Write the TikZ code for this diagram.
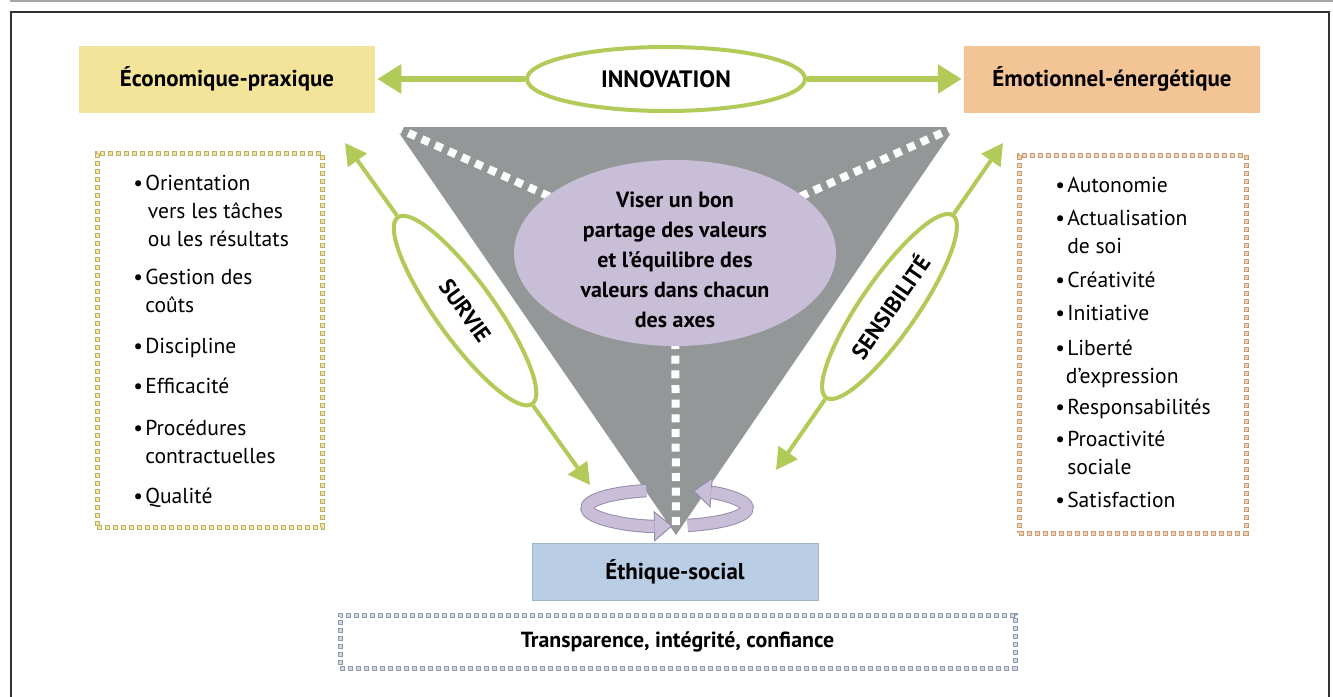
\documentclass[tikz,border=0pt]{standalone}
\usepackage{fontspec}
\setmainfont{PT Sans}
\usetikzlibrary{shapes.geometric,arrows.meta,calc}
\definecolor{ybox}{RGB}{244,228,154}
\definecolor{pbox}{RGB}{243,196,150}
\definecolor{bbox}{RGB}{185,205,229}
\definecolor{bboxd}{RGB}{160,180,205}
\definecolor{tri}{RGB}{148,151,151}
\definecolor{lav}{RGB}{201,190,216}
\definecolor{lavd}{RGB}{150,140,172}
\definecolor{grn}{RGB}{178,202,88}
\definecolor{ydo}{RGB}{190,175,105}
\definecolor{ydi}{RGB}{240,230,160}
\definecolor{pdo}{RGB}{200,158,118}
\definecolor{pdi}{RGB}{240,210,180}
\definecolor{bdo}{RGB}{145,157,175}
\definecolor{bdi}{RGB}{208,218,234}
\newcommand\bul{\makebox[9pt][l]{\textbullet}}
\begin{document}
\begin{tikzpicture}[x=0.75pt,y=-0.75pt,
  hbox/.style={minimum width=222pt, minimum height=50.25pt, inner sep=0pt, font=\fontsize{17.2}{20}\selectfont\bfseries},
  gell/.style={ellipse, draw=grn, line width=3pt, fill=white, inner sep=0pt, font=\fontsize{17}{20}\selectfont\bfseries},
  gbig/.style={draw=grn, line width=4.5pt, -{Triangle[length=18pt,width=21pt]}, shorten >=1.5pt},
  gline/.style={draw=grn, line width=3pt, -{Triangle[length=16pt,width=17pt]}},
  dotbox/.style 2 args={draw=#1, line width=3.75pt, dash pattern=on 3.75pt off 2.25pt, inner sep=0pt,
     postaction={draw=#2, line width=2.25pt, dash pattern=on 2.25pt off 3.75pt, dash phase=5.25pt}},
  item/.style={anchor=base west, align=left, inner sep=0pt, font=\fontsize{16.2}{21}\selectfont},
  wdash/.style={draw=white, line width=6pt, dash pattern=on 6pt off 5pt},
  ribo/.style={draw=lavd, line width=10pt, -{Triangle[length=14pt,width=23pt,fill=lav,line width=0.75pt]}},
  ribi/.style={draw=lav, line width=8.5pt, shorten >=13.5pt},
]
\useasboundingbox (0,0) rectangle (1333,696);
% page frame
\draw[gray!70, line width=1.5pt] (10,1) -- (1333,1);
\draw[black!80, line width=1.5pt] (11,700) -- (11,12) -- (1329,12) -- (1329,700);

% heading boxes
\node[hbox, fill=ybox] (eco) at (227,79) {Économique-praxique};
\node[hbox, fill=pbox] (emo) at (1112,79) {Émotionnel-énergétique};
\node[hbox, fill=bbox, draw=bboxd, line width=0.6pt, minimum width=214.5pt, minimum height=42.75pt] (eth) at (675,571.5) {Éthique-social};

% dotted boxes
\node[dotbox={ydo}{ydi}, minimum width=168.75pt, minimum height=280.5pt] (lbox) at (209.5,340) {};
\node[dotbox={pdo}{pdi}, minimum width=170.25pt, minimum height=283.5pt] (rbox) at (1132.5,344) {};
\node[dotbox={bdo}{bdi}, minimum width=506.25pt, minimum height=39.75pt] (bbx) at (677.5,641.5) {};
\node[font=\fontsize{16.4}{18}\selectfont\bfseries] (trans) at (677.5,642) {Transparence, intégrité, confiance};

% left list (anchor = baseline of last line)
\node[item] (l1) at (133,246) {\bul Orientation\\\hspace*{11pt}vers les tâches\\\hspace*{11pt}ou les résultats};
\node[item] (l2) at (133,312) {\bul Gestion des\\\hspace*{9pt}coûts};
\node[item] (l3) at (133,353) {\bul Discipline};
\node[item] (l4) at (133,393) {\bul Efficacité};
\node[item] (l5) at (133,463) {\bul Procédures\\\hspace*{9pt}contractuelles};
\node[item] (l6) at (133,503) {\bul Qualité};

% right list
\node[item] (r1) at (1055,192) {\bul Autonomie};
\node[item] (r2) at (1055,253) {\bul Actualisation\\\hspace*{9pt}de soi};
\node[item] (r3) at (1055,287) {\bul Créativité};
\node[item] (r4) at (1055,320) {\bul Initiative};
\node[item] (r5) at (1055,383) {\bul Liberté\\\hspace*{8pt}d’expression};
\node[item] (r6) at (1055,414) {\bul Responsabilités};
\node[item] (r7) at (1055,474) {\bul Proactivité\\\hspace*{9pt}sociale};
\node[item] (r8) at (1055,507) {\bul Satisfaction};

% triangle
\coordinate (ttl) at (395,127);
\coordinate (ttr) at (955,127);
\coordinate (ttb) at (676,535);
\fill[tri] (ttl) -- (ttr) -- (ttb) -- cycle;
\coordinate (vc) at (675,253);
\draw[wdash] (ttl) -- (vc);
\draw[wdash] (ttr) -- (vc);
\draw[wdash] (vc) -- ($(ttb)+(0,-6)$);
\node[ellipse, fill=lav, minimum width=241.5pt, minimum height=139.5pt, inner sep=0pt] (val) at (vc) {};
\node[align=center, font=\fontsize{16.5}{22.5}\selectfont\bfseries] (valt) at (675,260)
  {Viser un bon\\partage des valeurs\\et l’équilibre des\\valeurs dans chacun\\des axes};

% rotating ribbon arrows
\coordinate (rc) at (667,508);
\draw[ribo] ($(rc)+(255:80 and 18)$) arc[start angle=255, end angle=86, x radius=80, y radius=18];
\draw[ribi] ($(rc)+(255:80 and 18)$) arc[start angle=255, end angle=86, x radius=80, y radius=18];
\draw[ribo] ($(rc)+(75:80 and 18)$) arc[start angle=75, end angle=-71, x radius=80, y radius=18];
\draw[ribi] ($(rc)+(75:80 and 18)$) arc[start angle=75, end angle=-71, x radius=80, y radius=18];

% INNOVATION
\node[gell, minimum width=208.5pt, minimum height=48pt, font=\fontsize{17.8}{20}\selectfont\bfseries] (inn) at (666,79) {INNOVATION};
\draw[gbig] (inn) -- (eco);
\draw[gbig] (inn) -- (emo);

% SURVIE
\coordinate (s1) at (345,143);
\coordinate (s2) at (590,485);
\node[gell, rotate=-54.2, minimum width=172.5pt, minimum height=43.5pt] (surv) at ($(s1)!0.49!(s2)$) {SURVIE};
\draw[gline] (surv) -- (s1);
\draw[gline] (surv) -- (s2);

% SENSIBILITE
\coordinate (e1) at (1003,143);
\coordinate (e2) at (776,470);
\node[gell, rotate=55.2, minimum width=166.5pt, minimum height=42pt] (sens) at ($(e1)!0.5!(e2)$) {SENSIBILITÉ};
\draw[gline] (sens) -- (e1);
\draw[gline] (sens) -- (e2);
\end{tikzpicture}
\end{document}
